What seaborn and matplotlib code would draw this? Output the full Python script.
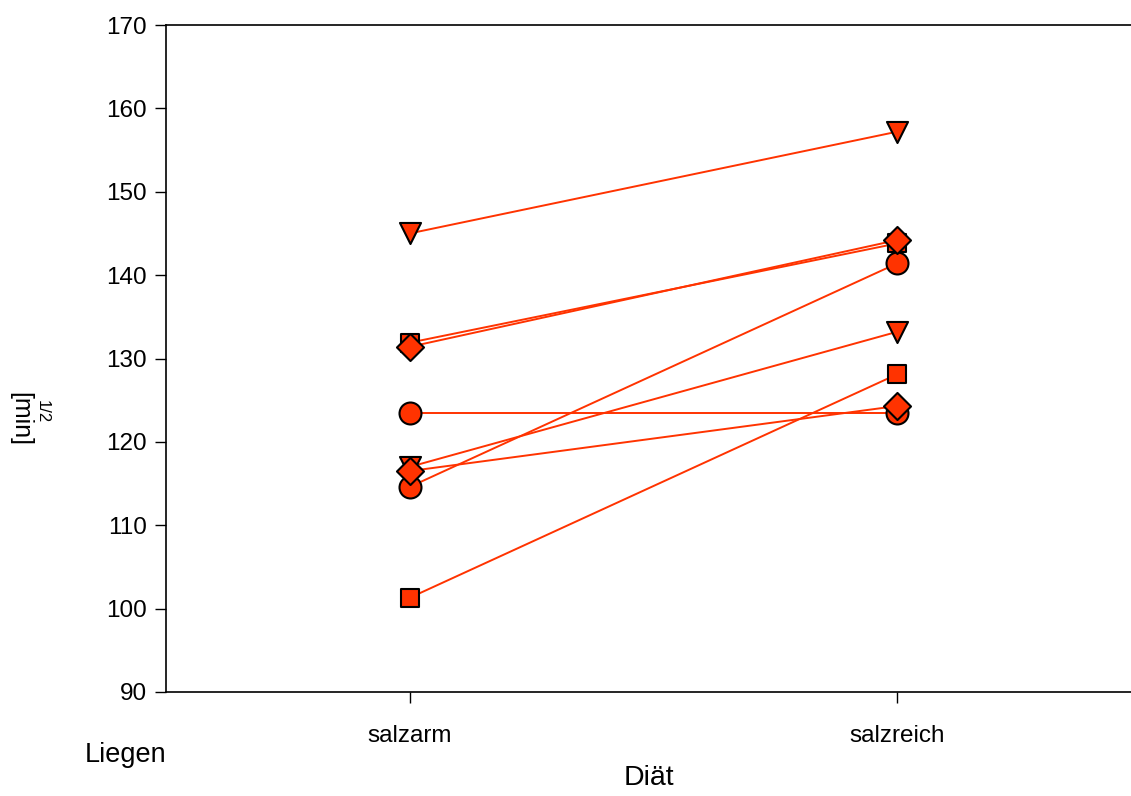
import matplotlib
matplotlib.use("Agg")
import matplotlib.pyplot as plt
import seaborn as sns
import pandas as pd

categories = ["salzarm", "salzreich"]
subjects = [1, 2, 3, 4, 5, 6, 7, 8]
markers = ["o", "v", "s", "D", "o", "v", "s", "D"]
salzarm = [123.5, 145.0, 101.3, 131.4, 114.6, 117.0, 131.9, 116.5]
salzreich = [123.5, 157.2, 128.1, 144.2, 141.4, 133.2, 143.8, 124.3]
yticks = [90, 100, 110, 120, 130, 140, 150, 160, 170]

rows = []
for s, m, a, b in zip(subjects, markers, salzarm, salzreich):
    rows.append({"subject": s, "marker": m, "pos": 0, "value": a})
    rows.append({"subject": s, "marker": m, "pos": 1, "value": b})
df = pd.DataFrame(rows)

sns.set_style("ticks")
plt.rcParams["font.family"] = ["Liberation Sans", "DejaVu Sans"]
plt.rcParams["text.color"] = "black"

red = "#FF3300"
fig = plt.figure(figsize=(11.31, 7.96), dpi=100)
ax = fig.add_axes([166 / 1131, 1 - 692 / 796, 1 - 166 / 1131, (692 - 25) / 796])

sns.lineplot(data=df, x="pos", y="value", units="subject", estimator=None,
             color=red, lw=1.4, ax=ax, legend=False, sort=False)
sizes = {"o": 250, "v": 230, "s": 175, "D": 190}
for m in ["o", "v", "s", "D"]:
    sub = df[df["marker"] == m]
    sns.scatterplot(data=sub, x="pos", y="value", marker=m, s=sizes[m],
                    color=red, edgecolor="black", linewidth=1.5, ax=ax,
                    legend=False, zorder=3)

ax.set_xlim(-0.5, 1.48)
ax.set_ylim(90, 170)
ax.set_yticks(yticks)
ax.set_xticks([0, 1])
ax.set_xticklabels(categories)
ax.tick_params(axis="both", labelsize=17.5, length=8, width=1, direction="out",
               color="black", labelcolor="black")
ax.tick_params(axis="x", pad=16)
ax.tick_params(axis="y", pad=6)
ax.spines["right"].set_visible(False)
for sp in ["top", "left", "bottom"]:
    ax.spines[sp].set_linewidth(1.2)
    ax.spines[sp].set_color("black")

ax.set_xlabel("Diät", fontsize=20.5, labelpad=13, color="black")
ax.set_ylabel("")
fig.text(20 / 1131, 1 - 419 / 796, "[min]", rotation=270, fontsize=18,
         ha="center", va="center", color="black")
fig.text(42 / 1131, 1 - 412 / 796, "1/2", rotation=270, fontsize=12,
         ha="center", va="center", color="black")
fig.text(85 / 1131, 1 - 755 / 796, "Liegen", fontsize=19.5, ha="left",
         va="center", color="black")

fig.savefig("out.png", dpi=100)
